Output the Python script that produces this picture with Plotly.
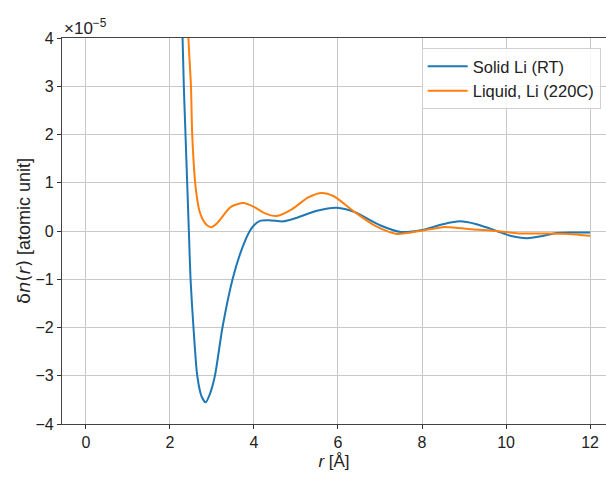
import plotly.graph_objects as go

# Data (values in units of 1e-5 atomic units)
r_solid = [2.20, 2.30, 2.33, 2.37, 2.41, 2.45, 2.49, 2.56, 2.65, 2.75, 2.85, 2.95, 3.07, 3.25,
           3.49, 3.70, 3.90, 4.00, 4.14, 4.40, 4.70, 5.00, 5.50, 5.97, 6.40, 7.00, 7.50, 8.00,
           8.50, 8.90, 9.30, 9.78, 10.10, 10.50, 10.90, 11.20, 11.60, 12.00]
dn_solid = [6.5, 4.0, 3.0, 2.0, 1.0, 0.0, -1.0, -2.0, -3.0, -3.42, -3.55, -3.38, -3.0, -2.0,
            -1.0, -0.4, 0.0, 0.12, 0.21, 0.22, 0.20, 0.27, 0.42, 0.48, 0.39, 0.12, -0.02, 0.02,
            0.14, 0.20, 0.14, 0.0, -0.10, -0.15, -0.10, -0.04, -0.03, -0.03]

r_liquid = [2.35, 2.44, 2.50, 2.53, 2.60, 2.65, 2.70, 2.78, 2.88, 2.99, 3.12, 3.45, 3.75, 4.00,
            4.25, 4.54, 4.90, 5.30, 5.61, 5.90, 6.40, 6.90, 7.40, 7.95, 8.50, 9.00, 9.78,
            10.30, 11.00, 11.50, 12.00]
dn_liquid = [7.0, 4.0, 3.0, 2.0, 1.0, 0.65, 0.42, 0.24, 0.12, 0.08, 0.16, 0.50, 0.58, 0.50,
             0.37, 0.31, 0.45, 0.70, 0.79, 0.72, 0.39, 0.10, -0.06, 0.0, 0.08, 0.05, 0.0,
             -0.05, -0.05, -0.06, -0.10]

x_ticks = [0, 2, 4, 6, 8, 10, 12]
y_ticks = [-4, -3, -2, -1, 0, 1, 2, 3, 4]
y_tick_labels = ["−4", "−3", "−2", "−1", "0", "1", "2", "3", "4"]

W, H = 606, 477
ML, MR, MT, MB = 62, 0, 38, 53
FAM = "Liberation Sans, Arial, sans-serif"

fig = go.Figure()
fig.add_trace(go.Scatter(x=r_solid, y=dn_solid, mode="lines", name="Solid Li (RT)",
                         line=dict(color="#1f77b4", width=2, shape="spline", smoothing=0.7)))
fig.add_trace(go.Scatter(x=r_liquid, y=dn_liquid, mode="lines", name="Liquid, Li (220C)",
                         line=dict(color="#ff7f0e", width=2, shape="spline", smoothing=0.7)))

fig.update_layout(
    width=W, height=H,
    margin=dict(l=ML, r=MR, t=MT, b=MB),
    paper_bgcolor="white", plot_bgcolor="white",
    font=dict(family=FAM, size=16, color="#222"),
    showlegend=True,
    legend=dict(x=(421.7 - ML) / (W - ML - MR), y=(H - MB - 48) / (H - MT - MB),
                xanchor="left", yanchor="top", itemwidth=40,
                bgcolor="rgba(255,255,255,0.85)", bordercolor="#d0d0d0", borderwidth=1,
                font=dict(family=FAM, size=16.5, color="#222")),
    xaxis=dict(range=[-0.57, 12.38], tickvals=x_ticks, ticks="outside", ticklen=4,
               tickcolor="#333", showline=True, linecolor="#444", linewidth=1.2, mirror=True,
               showgrid=True, gridcolor="#c8c8c8", gridwidth=1, zeroline=False,
               title=dict(text="<i>r</i> [Å]", standoff=4, font=dict(size=17)),
               tickfont=dict(size=16)),
    yaxis=dict(range=[-4, 4], tickvals=y_ticks, ticktext=y_tick_labels, ticks="outside",
               ticklen=4, tickcolor="#333", showline=True, linecolor="#444", linewidth=1.2,
               showgrid=True, gridcolor="#c8c8c8", gridwidth=1, zeroline=False,
               title=dict(text="<span style='font-family:DejaVu Sans'>δ<i>n</i>(<i>r</i>)</span> [atomic unit]",
                          standoff=0, font=dict(size=18)),
               tickfont=dict(size=16)),
    annotations=[dict(text="×10<sup>−5</sup>", xref="paper", yref="paper", x=0.0, y=1.0,
                      xanchor="left", yanchor="bottom", showarrow=False, yshift=-2,
                      font=dict(family=FAM, size=17, color="#222"))],
)

fig.write_html("out.html")
